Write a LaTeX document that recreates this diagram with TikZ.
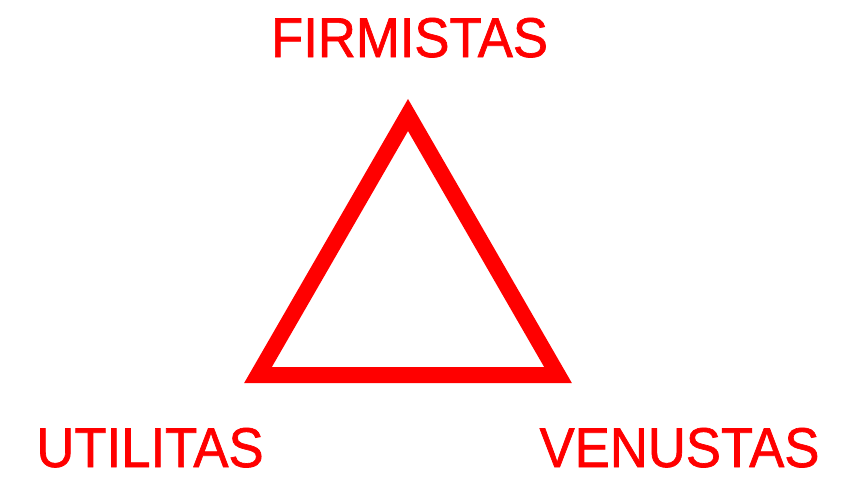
\documentclass[tikz,border=0pt]{standalone}
\usepackage{fontspec}
\newfontfamily\labelfont[FakeStretch=0.94, FakeBold=1.2]{Liberation Sans}
\usepackage{tikz}
\usetikzlibrary{positioning}
\usepackage{xcolor}
\definecolor{vitred}{RGB}{255,0,0}

\tikzset{
    virtue/.style={text=vitred, font=\labelfont\fontsize{56}{60}\selectfont, inner sep=0pt, anchor=base},
    edge/.style={draw=vitred, line width=16pt, line join=miter}
}

\begin{document}
\begin{tikzpicture}[x=1pt, y=-1pt]
    \useasboundingbox (0,0) rectangle (842,485);

    % Corners of the triangle
    \coordinate (top) at (408,115);
    \coordinate (left) at (258,375);
    \coordinate (right) at (558,375);

    % Triangle
    \draw[edge] (top) -- (left) -- (right) -- cycle;

    % Labels
    \node[virtue] (firm) at (409.5,57) {FIRMISTAS};
    \node[virtue] (util) at (150,467) {UTILITAS};
    \node[virtue] (venu) at (679.5,467) {VENUSTAS};

\end{tikzpicture}
\end{document}
